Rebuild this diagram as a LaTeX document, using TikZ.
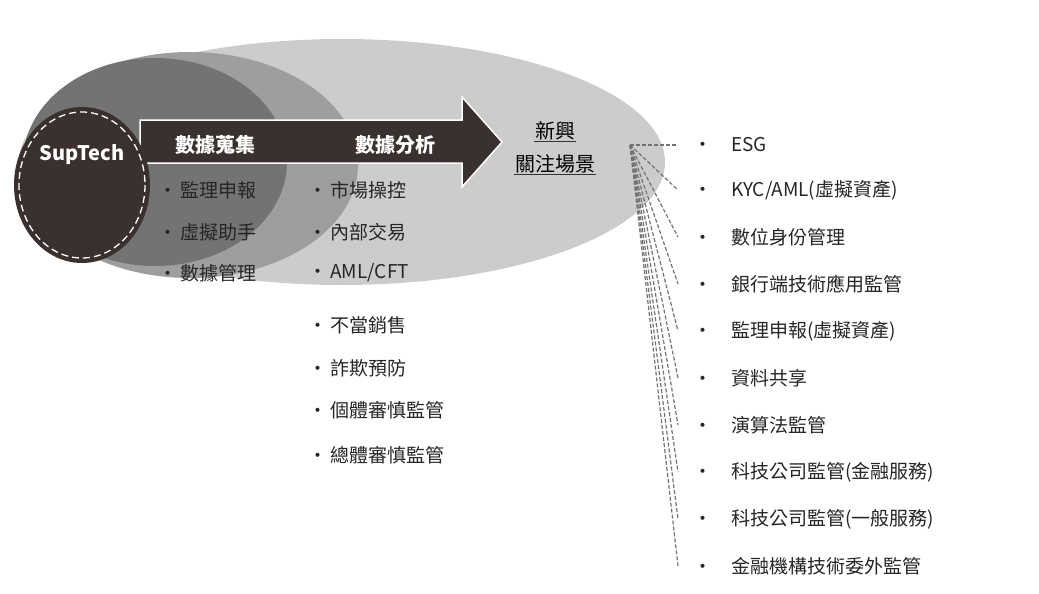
\documentclass[tikz,border=0pt]{standalone}
\usepackage{fontspec}
\setmainfont{Noto Sans CJK TC}
\begin{document}
\begin{tikzpicture}[x=1pt,y=-1pt,
  item/.style={anchor=west,font=\fontsize{19}{22}\selectfont,text=black!85,inner sep=0pt},
  gitem/.style={anchor=west,font=\fontsize{19}{22}\selectfont,text=black!85,inner sep=0pt},
  wtxt/.style={font=\fontsize{20}{24}\selectfont\bfseries,text=white,inner sep=0pt},
  fan/.style={draw=black!55,line width=1.2pt,dash pattern=on 4pt off 2pt}]
\useasboundingbox (0,0) rectangle (1039,594);
\fill[black!20] (342,162) ellipse [x radius=323, y radius=123];
\fill[black!38] (190,165) ellipse [x radius=168, y radius=113];
\fill[black!55] (155,162) ellipse [x radius=132, y radius=104];
\fill[fill={rgb,255:red,58;green,48;blue,45},draw=white,line width=1.5pt]
  (140,120) -- (462,120) -- (462,97) -- (502,142) -- (462,187) -- (462,163) -- (140,163) -- cycle;
\fill[fill={rgb,255:red,58;green,48;blue,45}] (82,185) ellipse [x radius=68, y radius=78];
\draw[white,line width=1.3pt,dash pattern=on 7pt off 4pt] (82,185) ellipse [x radius=63, y radius=73];
\node[wtxt] (sup) at (82,155) {SupTech};
\node[wtxt] (c1) at (215,145) {數據蒐集};
\node[wtxt] (c2) at (395,145) {數據分析};
\node[font=\fontsize{20}{24}\selectfont,inner sep=1pt] (n1) at (555,131) {新興};
\node[font=\fontsize{20}{24}\selectfont,inner sep=1pt] (n2) at (555,164) {關注場景};
\draw[black!80,line width=1pt] (n1.south west) -- (n1.south east);
\draw[black!80,line width=1pt] (n2.south west) -- (n2.south east);
\foreach \t/\y [count=\i] in {監理申報/190,虛擬助手/232,數據管理/273}
  \node[gitem] (a\i) at (158,\y) {•\,\t};
\foreach \t/\y [count=\i] in {市場操控/190,內部交易/232,{AML/CFT}/273,不當銷售/325,詐欺預防/368,個體審慎監管/410,總體審慎監管/455}
  \node[gitem] (b\i) at (308,\y) {•\,\t};
\coordinate (fo) at (630,145);
\foreach \t/\y [count=\i] in {ESG/145,{KYC/AML(虛擬資產)}/190,數位身份管理/237,銀行端技術應用監管/284,監理申報(虛擬資產)/331,資料共享/378,演算法監管/425,科技公司監管(金融服務)/472,科技公司監管(一般服務)/519,金融機構技術委外監管/566}{
  \coordinate (e\i) at (678,\y);
  \node[item] (r\i) at (693,\y) {•\quad\t};
  \draw[fan] (fo) -- (e\i);
}
\end{tikzpicture}
\end{document}
